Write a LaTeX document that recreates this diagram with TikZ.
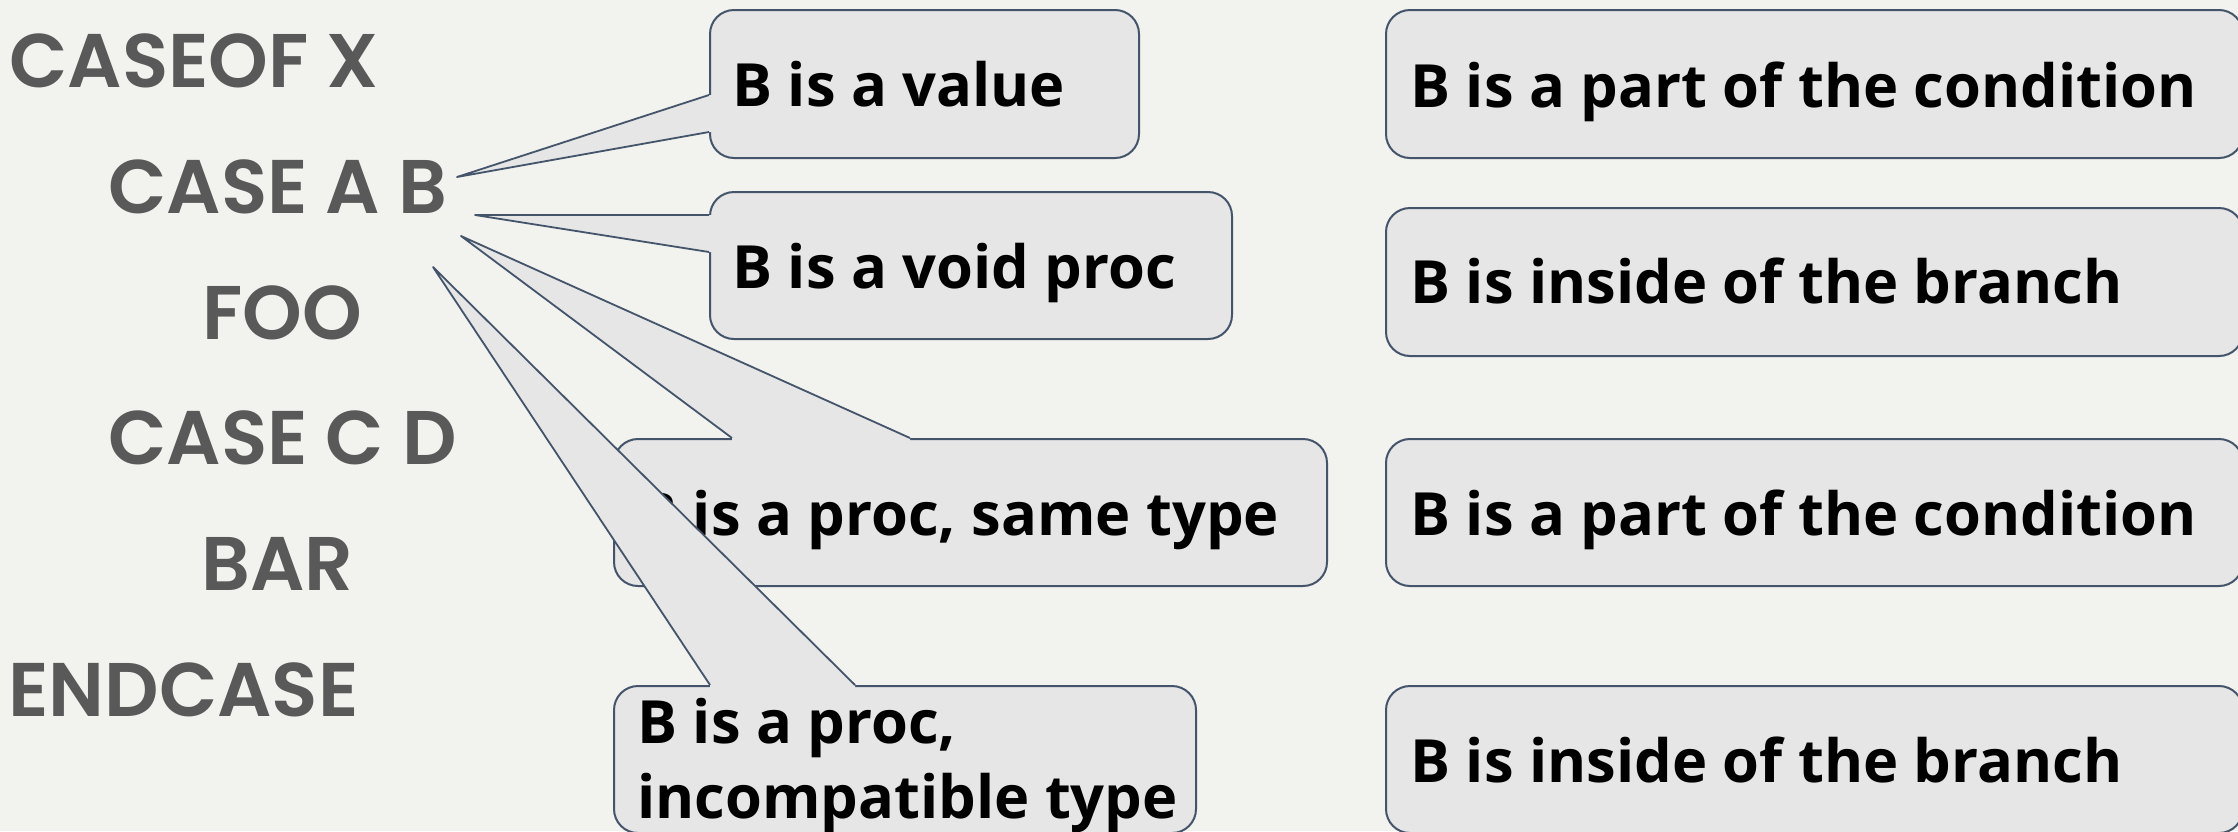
\documentclass[tikz,border=0pt]{standalone}
\usepackage{fontspec}
\usetikzlibrary{calc}
\newfontfamily\codefont{Poppins SemiBold}
\newfontfamily\notefont{Open Sans}
\definecolor{bg}{HTML}{F2F2EE}
\definecolor{boxfill}{HTML}{E6E6E6}
\definecolor{edge}{HTML}{44546A}
\definecolor{codegray}{HTML}{595959}
\begin{document}
\begin{tikzpicture}[x=0.5pt,y=-0.5pt,
  code/.style={font=\codefont\fontsize{38pt}{45pt}\selectfont, text=codegray, anchor=base west, inner sep=0pt},
  note/.style={font=\notefont\bfseries\fontsize{29.8pt}{37.5pt}\selectfont, text=black, anchor=base west, inner sep=0pt},
  callbox/.style={rectangle, draw=edge, fill=boxfill, line width=1pt, rounded corners=12pt, anchor=north west, inner sep=0pt},
  ptrfill/.style={fill=boxfill},
  ptredge/.style={draw=edge, line width=0.9pt, line join=round}
]
\fill[bg] (0,0) rectangle (2238,831);
\useasboundingbox (0,0) rectangle (2238,831);
\clip (0,0) rectangle (2238,831);

% code lines
\node[code] (c1) at (9,87) {CASEOF X};
\node[code] (c2) at (108,213) {CASE A B};
\node[code] (c3) at (202,339) {FOO};
\node[code] (c4) at (108,464) {CASE C D};
\node[code] (c5) at (201,590) {BAR};
\node[code] (c6) at (8,716) {ENDCASE};

% pointer tips next to B
\coordinate (tip1) at (457,177);
\coordinate (tip2) at (475,215);
\coordinate (tip3) at (461,236);
\coordinate (tip4) at (433,267);

% right column boxes
\node[callbox, minimum width=428.5pt, minimum height=74pt] (r1) at (1385,9) {};
\node[callbox, minimum width=428.5pt, minimum height=74pt] (r2) at (1385,207) {};
\node[callbox, minimum width=428.5pt, minimum height=73.5pt] (r3) at (1385,438) {};
\node[callbox, minimum width=428.5pt, minimum height=73.5pt] (r4) at (1385,685) {};
\node[note] (rt1) at (1410,107) {B is a part of the condition};
\node[note] (rt2) at (1410,303) {B is inside of the branch};
\node[note] (rt3) at (1410,535) {B is a part of the condition};
\node[note] (rt4) at (1410,782) {B is inside of the branch};

% callout 1
\node[callbox, minimum width=214.5pt, minimum height=74pt] (b1) at (709,9) {};
\coordinate (b1u) at ($(b1.north west)+(0,86)$);
\coordinate (b1d) at ($(b1.north west)+(0,123)$);
\fill[ptrfill] (b1u) -- (tip1) -- (b1d) -- ($(b1d)+(5,0)$) -- ($(b1u)+(5,0)$) -- cycle;
\draw[ptredge] (b1u) -- (tip1) -- (b1d);
\node[note] (t1) at (732,106) {B is a value};

% callout 2
\node[callbox, minimum width=261pt, minimum height=73.5pt] (b2) at (709,191) {};
\coordinate (b2u) at ($(b2.north west)+(0,24)$);
\coordinate (b2d) at ($(b2.north west)+(0,61)$);
\fill[ptrfill] (b2u) -- (tip2) -- (b2d) -- ($(b2d)+(5,0)$) -- ($(b2u)+(5,0)$) -- cycle;
\draw[ptredge] (b2u) -- (tip2) -- (b2d);
\node[note] (t2) at (732,288) {B is a void proc};

% callout 3
\node[callbox, minimum width=356.5pt, minimum height=73.5pt] (b3) at (613,438) {};
\node[note] (t3) at (637,535) {B is a proc, same type};
\coordinate (b3l) at ($(b3.north west)+(119,0)$);
\coordinate (b3r) at ($(b3.north west)+(297,0)$);
\fill[ptrfill] (b3l) -- (tip3) -- (b3r) -- ($(b3r)+(0,5)$) -- ($(b3l)+(0,5)$) -- cycle;
\draw[ptredge] (b3l) -- (tip3) -- (b3r);

% callout 4
\node[callbox, minimum width=291pt, minimum height=73.5pt] (b4) at (613,685) {};
\coordinate (b4l) at ($(b4.north west)+(97,0)$);
\coordinate (b4r) at ($(b4.north west)+(242,0)$);
\fill[ptrfill] (b4l) -- (tip4) -- (b4r) -- ($(b4r)+(0,5)$) -- ($(b4l)+(0,5)$) -- cycle;
\draw[ptredge] (b4l) -- (tip4) -- (b4r);
\node[note] (t4a) at (637,743) {B is a proc,};
\node[note] (t4b) at (637,818) {incompatible type};
\end{tikzpicture}
\end{document}
